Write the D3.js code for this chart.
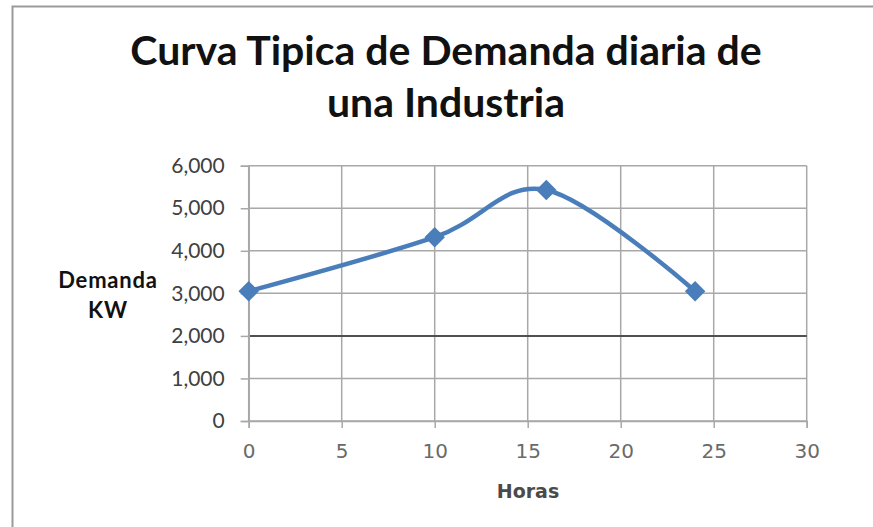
<!DOCTYPE html>
<html>
<head>
<meta charset="utf-8">
<script src="https://cdn.jsdelivr.net/npm/d3@7"></script>
<style>
  body { margin: 0; background: #fff; }
  svg { display: block; }
</style>
</head>
<body>
<div id="chart"></div>
<script>
// data
const horas = [0, 10, 16, 24];
const demanda = [3050, 4320, 5430, 3050];
const xTicks = [0, 5, 10, 15, 20, 25, 30];
const yTicks = [0, 1000, 2000, 3000, 4000, 5000, 6000];
const titleLines = ["Curva Tipica de Demanda diaria de", "una Industria"];
const yLabelLines = ["Demanda", "KW"];

const width = 873, height = 527;

const svg = d3.select("#chart")
    .append("svg")
    .attr("width", width)
    .attr("height", height);

// chart border (only top and left show in the picture)
svg.append("path")
    .attr("d", `M12.5,${height} V6.5 H${width}`)
    .attr("fill", "none")
    .attr("stroke", "#9a9a9a")
    .attr("stroke-width", 2);

var x = d3.scaleLinear().domain([0, 30]).range([248.7, 806.7]);
var y = d3.scaleLinear().domain([0, 6000]).range([421, 165.7]);

// grid
const grid = svg.append("g").attr("class", "grid");
grid.selectAll("line.v")
    .data(xTicks)
    .enter().append("line")
    .attr("class", "v")
    .attr("x1", d => x(d)).attr("x2", d => x(d))
    .attr("y1", y(6000)).attr("y2", y(0))
    .attr("stroke", "#a8a8a8")
    .attr("stroke-width", 1.5);

grid.selectAll("line.h")
    .data(yTicks)
    .enter().append("line")
    .attr("class", "h")
    .attr("x1", x(0)).attr("x2", x(30))
    .attr("y1", d => y(d)).attr("y2", d => y(d))
    .attr("stroke", d => d === 2000 ? "#505050" : "#a8a8a8")
    .attr("stroke-width", d => d === 2000 ? 2 : 1.5);

// axes
const yAxis = svg.append("g")
    .attr("transform", `translate(${x(0)},0)`)
    .call(d3.axisLeft(y).tickValues(yTicks).tickSize(8).tickPadding(16)
        .tickFormat(d3.format(",")));
yAxis.select(".domain").attr("stroke", "#a8a8a8").attr("stroke-width", 1.5);
yAxis.selectAll(".tick line").attr("stroke", "#a8a8a8").attr("stroke-width", 1.5);
yAxis.selectAll("text")
    .attr("fill", "#404040")
    .style("font-family", "Lato, 'Open Sans', sans-serif")
    .style("font-size", "21px");

const xAxis = svg.append("g")
    .attr("transform", `translate(0,${y(0)})`)
    .call(d3.axisBottom(x).tickValues(xTicks).tickSize(7).tickPadding(16));
xAxis.select(".domain").attr("stroke", "#a8a8a8").attr("stroke-width", 1.5);
xAxis.selectAll(".tick line").attr("stroke", "#a8a8a8").attr("stroke-width", 1.5);
xAxis.selectAll("text")
    .attr("fill", "#6a6a6a")
    .style("font-family", "'DejaVu Sans', sans-serif")
    .style("font-size", "20px");

// series
const pts = horas.map((h, i) => [h, demanda[i]]);

const line = d3.line()
    .x(d => x(d[0]))
    .y(d => y(d[1]))
    .curve(d3.curveCatmullRom.alpha(0));

svg.append("path")
    .datum(pts)
    .attr("d", line)
    .attr("fill", "none")
    .attr("stroke", "#4a7ebb")
    .attr("stroke-width", 4.5);

svg.selectAll("path.marker")
    .data(pts)
    .enter().append("path")
    .attr("class", "marker")
    .attr("d", d3.symbol(d3.symbolSquare, 210))
    .attr("transform", d => `translate(${x(d[0])},${y(d[1])}) rotate(45)`)
    .attr("fill", "#4a7ebb");

// title
svg.append("g").selectAll("text")
    .data(titleLines)
    .enter().append("text")
    .attr("x", 446)
    .attr("y", (d, i) => 65 + i * 52)
    .attr("text-anchor", "middle")
    .attr("fill", "#111")
    .style("font-family", "Lato, sans-serif")
    .style("font-weight", "bold")
    .style("font-size", "41px")
    .text(d => d);

// y axis title
svg.append("g").selectAll("text")
    .data(yLabelLines)
    .enter().append("text")
    .attr("x", 108)
    .attr("y", (d, i) => 288 + i * 30)
    .attr("text-anchor", "middle")
    .attr("fill", "#111")
    .style("font-family", "Lato, sans-serif")
    .style("font-weight", "bold")
    .style("font-size", "22px")
    .style("letter-spacing", "0.8px")
    .text(d => d);

// x axis title
svg.append("text")
    .attr("x", 528)
    .attr("y", 498)
    .attr("text-anchor", "middle")
    .attr("fill", "#4a4a4a")
    .style("font-family", "'DejaVu Sans', sans-serif")
    .style("font-weight", "bold")
    .style("font-size", "19px")
    .text("Horas");
</script>
</body>
</html>
